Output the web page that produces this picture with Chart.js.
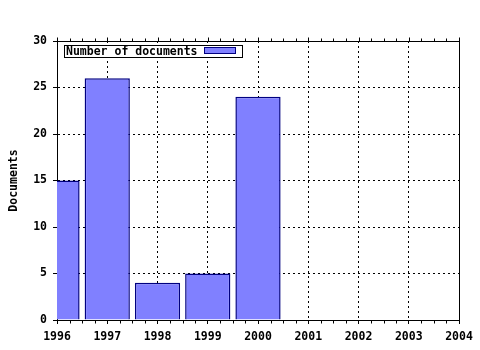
<!DOCTYPE html>
<html>
<head>
<meta charset="utf-8">
<style>
  html, body { margin: 0; padding: 0; background: #ffffff; }
  #wrap { width: 480px; height: 350px; }
</style>
<script src="https://cdn.jsdelivr.net/npm/chart.js@4/dist/chart.umd.min.js"></script>
</head>
<body>
<div id="wrap"><canvas id="c" width="480" height="350"></canvas></div>
<script>
// ---- data ----
const years = [1996, 1997, 1998, 1999, 2000];
const documents = [15, 26, 4, 5, 24];
const seriesLabel = 'Number of documents';
const yAxisTitle = 'Documents';
const xRange = [1996, 2004];
const yRange = [0, 30];

const FONT = '"DejaVu Sans Mono", "Liberation Mono", monospace';
const FSIZE = 11.5;
const BAR_FILL = '#8080ff';
const BAR_EDGE = '#000080';

const frameAndLegend = {
  id: 'frameAndLegend',
  afterDraw(chart) {
    const ctx = chart.ctx;
    const a = chart.chartArea;
    const xs = chart.scales.x;
    ctx.save();
    ctx.strokeStyle = '#000';
    ctx.lineWidth = 1;
    // top and right frame
    ctx.beginPath();
    ctx.moveTo(Math.round(a.left) + 0.5, Math.round(a.top) + 0.5);
    ctx.lineTo(Math.round(a.right) + 0.5, Math.round(a.top) + 0.5);
    ctx.lineTo(Math.round(a.right) + 0.5, Math.round(a.bottom) + 0.5);
    ctx.stroke();
    // minor ticks on top and bottom (quarter years)
    ctx.beginPath();
    for (let v = xRange[0]; v <= xRange[1] + 1e-9; v += 0.25) {
      const px = Math.round(xs.getPixelForValue(v)) + 0.5;
      const major = Math.abs(v - Math.round(v)) < 1e-9;
      ctx.moveTo(px, Math.round(a.top) + 0.5);
      ctx.lineTo(px, Math.round(a.top) + 0.5 - (major ? 4 : 3));
      if (!major) {
        ctx.moveTo(px, Math.round(a.bottom) + 0.5);
        ctx.lineTo(px, Math.round(a.bottom) + 0.5 + 3);
      }
    }
    ctx.stroke();
    // legend box
    const lx = Math.round(a.left) + 7, ly = Math.round(a.top) + 4;
    const lw = 178, lh = 12;
    ctx.fillStyle = '#fff';
    ctx.fillRect(lx, ly, lw, lh);
    ctx.strokeRect(lx + 0.5, ly + 0.5, lw, lh);
    ctx.fillStyle = '#000';
    ctx.font = 'bold ' + FSIZE + 'px ' + FONT;
    ctx.textBaseline = 'middle';
    ctx.textAlign = 'left';
    ctx.fillText(seriesLabel, lx + 2, ly + lh / 2 + 1);
    ctx.fillStyle = BAR_FILL;
    ctx.fillRect(lx + 140, ly + 2, 31, 6);
    ctx.strokeStyle = BAR_EDGE;
    ctx.strokeRect(lx + 140 + 0.5, ly + 2 + 0.5, 31, 6);
    ctx.restore();
  }
};

new Chart(document.getElementById('c'), {
  type: 'bar',
  data: {
    datasets: [{
      label: seriesLabel,
      data: years.map((y, i) => ({ x: y, y: documents[i] })),
      backgroundColor: BAR_FILL,
      borderColor: BAR_EDGE,
      borderWidth: 1.5,
      borderSkipped: 'start',
      inflateAmount: 0,
      barPercentage: 0.9,
      categoryPercentage: 1.0
    }]
  },
  options: {
    responsive: false,
    animation: false,
    devicePixelRatio: 1,
    layout: { padding: { top: 41, right: 21, left: 0, bottom: 0 } },
    plugins: {
      legend: { display: false },
      tooltip: { enabled: false }
    },
    scales: {
      x: {
        type: 'linear',
        min: xRange[0],
        max: xRange[1],
        offset: false,
        afterFit(s) { s.height = 30; },
        ticks: {
          stepSize: 1,
          autoSkip: false,
          maxRotation: 0,
          padding: 6,
          color: '#000',
          font: { family: FONT, size: FSIZE, weight: 'bold' },
          callback: v => String(v)
        },
        grid: {
          offset: false,
          color: '#000',
          lineWidth: 1,
          drawTicks: true,
          tickLength: 4,
          tickColor: '#000'
        },
        border: { display: true, color: '#000', width: 1, dash: [2, 3] }
      },
      y: {
        min: yRange[0],
        max: yRange[1],
        afterFit(s) { s.width = 57; },
        ticks: {
          stepSize: 5,
          padding: 6,
          color: '#000',
          font: { family: FONT, size: FSIZE, weight: 'bold' }
        },
        grid: {
          color: '#000',
          lineWidth: 1,
          drawTicks: true,
          tickLength: 4,
          tickColor: '#000'
        },
        border: { display: true, color: '#000', width: 1, dash: [2, 3] },
        title: {
          display: true,
          text: yAxisTitle,
          color: '#000',
          padding: { top: 7, bottom: 0 },
          font: { family: FONT, size: FSIZE, weight: 'bold' }
        }
      }
    }
  },
  plugins: [frameAndLegend]
});
</script>
</body>
</html>
